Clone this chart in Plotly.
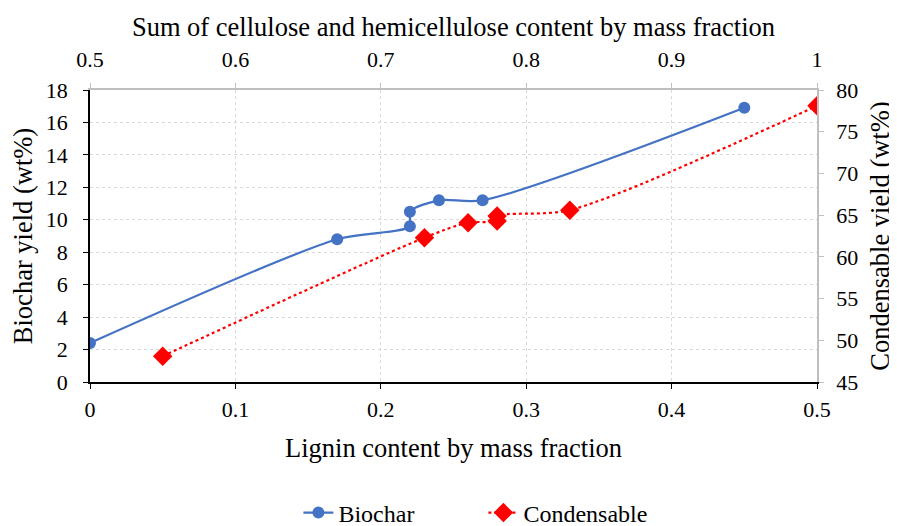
import plotly.graph_objects as go

# Data
lignin = [0.0, 0.17, 0.22, 0.22, 0.24, 0.27, 0.45]
biochar = [2.4, 8.8, 9.6, 10.5, 11.2, 11.2, 16.9]

cellulose_sum = [0.55, 0.73, 0.76, 0.78, 0.78, 0.83, 1.0]
condensable = [48.1, 62.3, 64.1, 64.3, 64.9, 65.6, 78.1]

FONT = "Liberation Serif"
TICK = 22
TITLE = 26.5

fig = go.Figure()
fig.add_trace(go.Scatter(
    x=lignin, y=biochar, name="Biochar", mode="lines+markers",
    line=dict(color="#4472C4", width=2.2, shape="spline", smoothing=0.8),
    marker=dict(symbol="circle", size=12, color="#4472C4"),
    xaxis="x", yaxis="y",
))
fig.add_trace(go.Scatter(
    x=cellulose_sum, y=condensable, name="Condensable", mode="lines+markers",
    line=dict(color="#FF0000", width=2.2, dash="dot", shape="spline", smoothing=0.8),
    marker=dict(symbol="diamond", size=15, color="#FF0000"),
    xaxis="x2", yaxis="y2",
))

grid = "#d9d9d9"
fig.update_layout(
    width=897, height=526,
    margin=dict(l=82, r=88, t=82, b=152),
    paper_bgcolor="white", plot_bgcolor="white",
    font=dict(family=FONT, size=TICK, color="#000000"),
    showlegend=True,
    legend=dict(orientation="h", x=0.53, xanchor="center", xref="container",
                y=0.04, yanchor="middle", yref="container",
                font=dict(family=FONT, size=24), entrywidth=140),
    xaxis=dict(
        range=[0, 0.5], dtick=0.1, tickformat="~g", automargin=False,
        showline=True, linecolor="black", linewidth=1.5,
        ticks="outside", ticklen=5, tickcolor="black", ticklabelstandoff=2,
        showgrid=True, gridcolor=grid, griddash="dot", gridwidth=1,
        zeroline=False,
        title=dict(text="Lignin content by mass fraction", font=dict(size=TITLE), standoff=17),
        tickfont=dict(size=TICK),
    ),
    xaxis2=dict(
        range=[0.5, 1.0], dtick=0.1, tickformat="~g", automargin=False,
        overlaying="x", side="top", anchor="y",
        showline=True, linecolor="#bfbfbf", linewidth=1.5,
        ticks="outside", ticklen=5, tickcolor="#bfbfbf", ticklabelstandoff=7,
        showgrid=False, zeroline=False,
        title=dict(text="Sum of cellulose and hemicellulose content by mass fraction",
                   font=dict(size=TITLE), standoff=3),
        tickfont=dict(size=TICK),
    ),
    yaxis=dict(
        range=[0, 18], dtick=2, automargin=False,
        showline=True, linecolor="black", linewidth=1.5,
        ticks="outside", ticklen=5, tickcolor="black", ticklabelstandoff=11,
        showgrid=True, gridcolor=grid, griddash="dot", gridwidth=1,
        zeroline=False,
        title=dict(text="Biochar yield (wt%)", font=dict(size=TITLE), standoff=8),
        tickfont=dict(size=TICK),
    ),
    yaxis2=dict(
        range=[45, 80], dtick=5, automargin=False,
        overlaying="y", side="right", anchor="x",
        showline=True, linecolor="#bfbfbf", linewidth=1.5,
        ticks="outside", ticklen=5, tickcolor="#bfbfbf", ticklabelstandoff=8,
        showgrid=False, zeroline=False,
        title=dict(text="Condensable yield (wt%)", font=dict(size=TITLE), standoff=13),
        tickfont=dict(size=TICK),
    ),
)

fig.write_html("out.html")
